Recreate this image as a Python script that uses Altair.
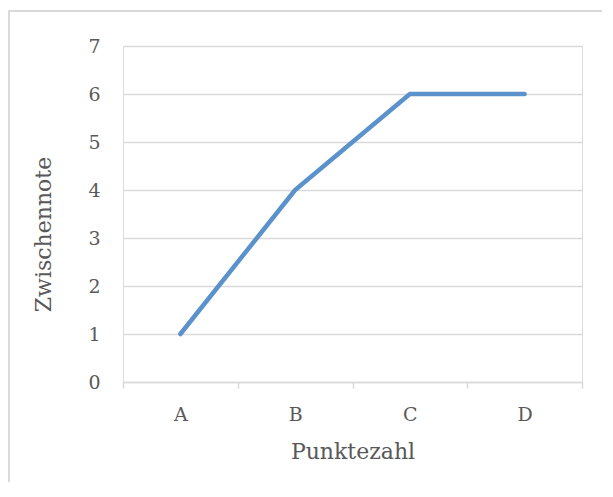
import altair as alt
import pandas as pd

categories = ["A", "B", "C", "D"]
values = [1, 4, 6, 6]

df = pd.DataFrame({"Punktezahl": categories, "Zwischennote": values})

FONT = "DejaVu Serif"
TXT = "#595959"
GRID = "#d9d9d9"

line = alt.Chart(df).mark_line(color="#5b92cc", strokeWidth=4.5, strokeCap="round", strokeJoin="round").encode(
    x=alt.X("Punktezahl:N", sort=categories,
            scale=alt.Scale(paddingInner=0, paddingOuter=0),
            axis=alt.Axis(title="Punktezahl", labelAngle=0, tickBand="extent",
                          domainColor=GRID, domainWidth=1.5, tickColor=GRID, tickWidth=1.5,
                          tickSize=6, labelPadding=17, labelFontSize=19, labelColor=TXT,
                          labelFont=FONT, titleFont=FONT, titleFontSize=22, titleColor=TXT,
                          titleFontWeight="normal", titlePadding=17, grid=False)),
    y=alt.Y("Zwischennote:Q", scale=alt.Scale(domain=[0, 7]),
            axis=alt.Axis(title="Zwischennote", values=list(range(8)), domain=False, ticks=False,
                          gridColor=GRID, gridWidth=1.5, labelPadding=23, labelFontSize=19,
                          labelColor=TXT, labelFont=FONT, titleFont=FONT, titleFontSize=22,
                          titleColor=TXT, titleFontWeight="normal", titleX=-68, titleY=188)),
)

border_top = alt.Chart(df).mark_rule(color=GRID, strokeWidth=1.5).encode(
    x=alt.value(-114.25), x2=alt.value(600), y=alt.value(-35))
border_left = alt.Chart(df).mark_rule(color=GRID, strokeWidth=1.5).encode(
    x=alt.value(-114.25), y=alt.value(-35), y2=alt.value(460))

chart = alt.layer(border_top, border_left, line).properties(
    width=459, height=336,
    autosize=alt.AutoSizeParams(type="none"),
    padding={"left": 115, "top": 38, "right": 20, "bottom": 100},
).configure_view(stroke=None).configure(background="white")

chart.save("out.html", embed_options={"renderer": "svg", "actions": False})
